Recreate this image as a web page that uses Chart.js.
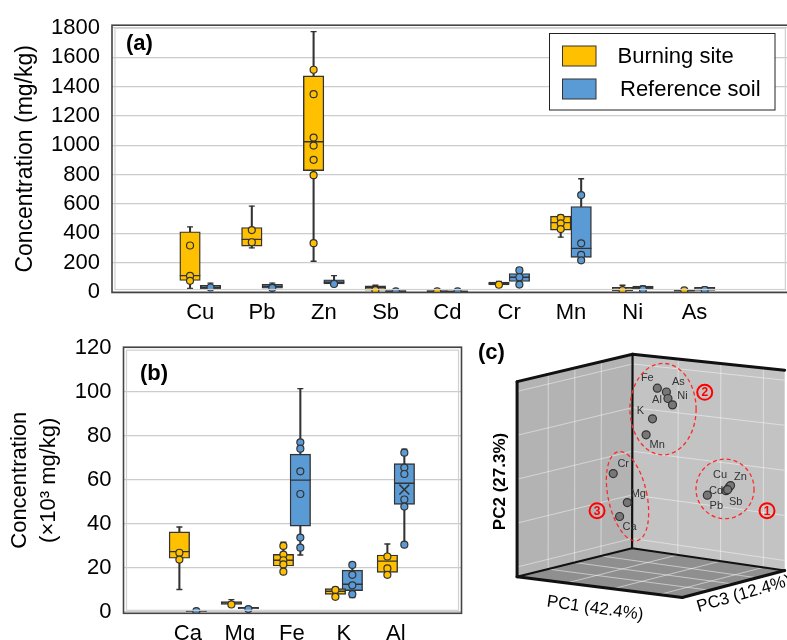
<!DOCTYPE html>
<html>
<head>
<meta charset="utf-8">
<script src="https://cdn.jsdelivr.net/npm/chart.js@4.4.1/dist/chart.umd.min.js"></script>
<style>
html,body{margin:0;padding:0;background:#ffffff;overflow:hidden;}
#wrap{position:relative;width:787px;height:640px;overflow:hidden;background:#fff;}
canvas{position:absolute;display:block;}
</style>
</head>
<body>
<div id="wrap">
<canvas id="ca" width="800" height="330" style="left:0;top:0;"></canvas>
<canvas id="cb" width="475" height="318" style="left:0;top:322px;"></canvas>
<canvas id="cc" width="317" height="318" style="left:470px;top:322px;"></canvas>
</div>
<script>
// ================= DATA =================
const seriesNames = ['Burning site', 'Reference soil'];

// ---- panel (a): concentration, mg/kg ----
const elementsA = ['Cu','Pb','Zn','Sb','Cd','Cr','Mn','Ni','As'];
const yTicksA   = [0,200,400,600,800,1000,1200,1400,1600,1800];
const burnMinA = [22, 300, 208, 8, 0, 40, 373, 3, 2];
const burnQ1A  = [77, 312, 827, 11, 2, 46, 421, 5, 4];
const burnMedA = [110, 358, 1024, 27, 4, 57, 472, 15, 9];
const burnQ3A  = [410, 439, 1474, 40, 8, 66, 516, 30, 15];
const burnMaxA = [443, 585, 1776, 44, 10, 70, 524, 44, 17];
const burnPtsA = [[316,108,75],[421,338],[1516,1349,1053,998,901,796,332],[11],[3],[48],[505,467,428],[11],[9]];
const refMinA  = [20, 20, 50, 0, 0, 38, 208, 14, 8];
const refQ1A   = [22, 24, 53, 1, 1, 70, 235, 18, 10];
const refMedA  = [30, 37, 65, 4, 3, 99, 296, 28, 20];
const refQ3A   = [44, 51, 82, 8, 6, 125, 582, 38, 30];
const refMaxA  = [59, 59, 110, 9, 7, 165, 772, 40, 33];
const refPtsA  = [[29],[26],[53],[3],[2],[147,99,49],[660,331,252,215],[16],[12]];

// ---- panel (b): concentration, x10^3 mg/kg ----
const elementsB = ['Ca','Mg','Fe','K','Al'];
const yTicksB   = [0,20,40,60,80,100,120];
const burnMinB = [10.1, 3.0, 17.9, 6.8, 16.2];
const burnQ1B  = [24.3, 3.3, 20.8, 7.9, 17.9];
const burnMedB = [27.3, 4.0, 23.4, 9.3, 23.0];
const burnQ3B  = [36.3, 4.6, 26.1, 10.5, 25.8];
const burnMaxB = [38.5, 5.5, 31.6, 11.0, 30.8];
const burnPtsB = [[26.8,23.7],[3.3],[29.9,26.0,23.4,21.5,18.2],[9.9,6.8],[25.1,19.7,16.8]];
const refMinB  = [0.1, 1.0, 25.8, 6.5, 30.5];
const refQ1B   = [0.1, 1.4, 38.9, 9.6, 48.8];
const refMedB  = [0.4, 1.8, 59.8, 12.5, 58.4];
const refQ3B   = [0.7, 2.0, 71.6, 18.9, 67.3];
const refMaxB  = [0.9, 2.2, 101.4, 22.2, 73.9];
const refPtsB  = [[0.3],[1.2],[77.0,74.1,63.8,53.5,33.7,29.1],[21.3,16.8,12.0,8.0],[72.3,65.5,62.6,51.0,47.8,30.5]];
const refMeanB = [null, null, null, null, 55.5];

// ---- panel (c): PCA loadings, projected onto the picture plane ----
const pcaElements = ['Fe','As','Al','Ni','K','Mn','Cr','Mg','Ca','Cu','Zn','Cd','Sb','Pb'];
const pcaProjX = [0.261, 0.355, 0.371, 0.418, 0.211, 0.145, -0.195, -0.049, -0.129, 1.003, 1.018, 0.971, 0.988, 0.778];
const pcaProjY = [1.655, 1.615, 1.548, 1.482, 1.338, 1.172, 0.772, 0.472, 0.328, 0.630, 0.648, 0.595, 0.605, 0.548];
const clusterIds = ['1','2','3'];
const clusterCX = [0.961, 0.320, -0.047];
const clusterCY = [0.613, 1.438, 0.538];
const clusterRX = [0.300, 0.342, 0.200];
const clusterRY = [0.308, 0.473, 0.470];
const clusterTagX = [1.395, 0.751, -0.362];
const clusterTagY = [0.388, 1.612, 0.388];
const pcaAxisTitles = ['PC1 (42.4%)', 'PC2 (27.3%)', 'PC3 (12.4%)'];

// ================= STYLE =================
Chart.defaults.font.family = "'Liberation Sans', Arial, sans-serif";
Chart.defaults.color = '#000';
Chart.defaults.animation = false;
const COL = {burn:'#FFC000', ref:'#5B9BD5', edge:'#333333', grid:'#cccccc', frame:'#444444'};
const FAM = "'Liberation Sans', Arial, sans-serif";

function boxSets(minA,q1A,medA,q3A,maxA,ptsA,meanA,color,off,boxW,label){
  const X = i => i + 1 + off;
  const sets = [];
  sets.push({type:'bar', data:minA.map((v,i)=>({x:X(i), y:[v, maxA[i]]})), backgroundColor:COL.edge,
    borderWidth:0, barThickness:1.4, grouped:false, order:60});
  const caps = [];
  minA.forEach((v,i)=>{ caps.push({x:X(i), y:v}); caps.push({x:X(i), y:maxA[i]}); });
  sets.push({type:'scatter', data:caps, pointStyle:'line', pointRadius:3, borderColor:COL.edge, borderWidth:1.4, order:50});
  sets.push({type:'bar', label:label, data:q1A.map((v,i)=>({x:X(i), y:[v, q3A[i]]})), backgroundColor:color,
    borderColor:COL.edge, borderWidth:1.4, borderSkipped:false, barThickness:boxW, grouped:false, order:40});
  sets.push({type:'scatter', data:medA.map((v,i)=>({x:X(i), y:v})), pointStyle:'line', pointRadius:boxW/2,
    borderColor:COL.edge, borderWidth:1.4, order:30});
  if (meanA) {
    const m = [];
    meanA.forEach((v,i)=>{ if (v !== null) m.push({x:X(i), y:v}); });
    sets.push({type:'scatter', data:m, pointStyle:'crossRot', pointRadius:7, borderColor:COL.edge, borderWidth:1.5, order:20});
  }
  const pts = [];
  ptsA.forEach((arr,i)=>arr.forEach(v=>pts.push({x:X(i), y:v})));
  sets.push({type:'scatter', data:pts, pointStyle:'circle', pointRadius:3.5, backgroundColor:color,
    borderColor:COL.edge, borderWidth:1.2, order:10});
  return sets;
}

function framePlugin(tag, dx, dy){
  return {
    id:'frame'+tag,
    afterDraw(chart){
      const a = chart.chartArea, ctx = chart.ctx;
      ctx.save();
      ctx.strokeStyle = '#d0d0d0'; ctx.lineWidth = 1.2;
      ctx.strokeRect(a.left+3, a.top+3, a.right-a.left-6, a.bottom-a.top-6);
      ctx.strokeStyle = COL.frame; ctx.lineWidth = 1.6;
      ctx.strokeRect(a.left, a.top, a.right-a.left, a.bottom-a.top);
      ctx.fillStyle = '#000';
      ctx.font = 'bold 22px ' + FAM;
      ctx.textAlign = 'left'; ctx.textBaseline = 'middle';
      ctx.fillText('(' + tag + ')', a.left + dx, a.top + dy);
      ctx.restore();
    }
  };
}

const legendPlugin = {
  id:'legendA',
  afterDraw(chart){
    const ctx = chart.ctx;
    ctx.save();
    ctx.fillStyle = '#fff'; ctx.fillRect(549.5, 33.5, 225.5, 76.5);
    ctx.strokeStyle = '#222'; ctx.lineWidth = 1; ctx.strokeRect(549.5, 33.5, 225.5, 76.5);
    const cols = [COL.burn, COL.ref];
    const ys = [56, 89];
    const tx = [617.5, 620];
    ctx.font = '22px ' + FAM; ctx.textBaseline = 'middle'; ctx.textAlign = 'left';
    seriesNames.forEach((n,i)=>{
      ctx.fillStyle = cols[i]; ctx.fillRect(562.5, ys[i]-10, 33.5, 20);
      ctx.strokeStyle = COL.edge; ctx.strokeRect(562.5, ys[i]-10, 33.5, 20);
      ctx.fillStyle = '#000'; ctx.fillText(n, tx[i], ys[i]+1);
    });
    ctx.restore();
  }
};

const plainNum = v => String(v);

// ================= PANEL (a) =================
(function(){
  const left = 112, c1 = 170, step = 70.7, right = 800;
  const xMin = 1 - (c1-left)/step, xMax = 1 + (right-c1)/step;
  const off = 11.7/step;
  const ds = [].concat(
    boxSets(burnMinA,burnQ1A,burnMedA,burnQ3A,burnMaxA,burnPtsA,null,COL.burn,-off,20.5,seriesNames[0]),
    boxSets(refMinA,refQ1A,refMedA,refQ3A,refMaxA,refPtsA,null,COL.ref,off,20.5,seriesNames[1])
  );
  new Chart(document.getElementById('ca'), {
    type:'bar',
    data:{datasets:ds},
    options:{
      responsive:false, animation:false, events:[],
      layout:{padding:{top:15, left:0, right:0, bottom:0}},
      plugins:{legend:{display:false}, tooltip:{enabled:false}},
      scales:{
        x:{type:'linear', min:xMin, max:xMax, bounds:'data', grid:{display:false}, border:{display:false},
          afterBuildTicks:s=>{ s.ticks = elementsA.map((_,i)=>({value:i+1})); },
          ticks:{autoSkip:false, maxRotation:0, padding:-1, font:{size:22}, color:'#000',
            callback:(v)=>elementsA[Math.round(v)-1]},
          afterFit:s=>{ s.height = 330 - 292.5; }},
        y:{type:'linear', min:-5, max:1820, bounds:'data',
          afterBuildTicks:s=>{ s.ticks = yTicksA.map(v=>({value:v})); },
          grid:{color:COL.grid, lineWidth:1.3, drawTicks:false}, border:{display:false},
          ticks:{padding:12, font:{size:22}, color:'#000', callback:plainNum},
          title:{display:true, text:'Concentration (mg/kg)', font:{size:23}, color:'#000', padding:{top:12, bottom:0}},
          afterFit:s=>{ s.width = 112; }}
      }
    },
    plugins:[framePlugin('a', 14, 18.5), legendPlugin]
  });
})();

// ================= PANEL (b) =================
(function(){
  const left = 123.5, c1 = 161.7, step = 65, right = 461.5;
  const xMin = 1 - (c1-left)/step, xMax = 1 + (right-c1)/step;
  const off = 10.6/step;
  const ds = [].concat(
    boxSets(burnMinB,burnQ1B,burnMedB,burnQ3B,burnMaxB,burnPtsB,null,COL.burn,-off,20.5,seriesNames[0]),
    boxSets(refMinB,refQ1B,refMedB,refQ3B,refMaxB,refPtsB,refMeanB,COL.ref,off,20.5,seriesNames[1])
  );
  new Chart(document.getElementById('cb'), {
    type:'bar',
    data:{datasets:ds},
    options:{
      responsive:false, animation:false, events:[],
      layout:{padding:{top:10.3, left:0, right:475-right, bottom:0}},
      plugins:{legend:{display:false}, tooltip:{enabled:false}},
      scales:{
        x:{type:'linear', min:xMin, max:xMax, bounds:'data', grid:{display:false}, border:{display:false},
          afterBuildTicks:s=>{ s.ticks = elementsB.map((_,i)=>({value:i+1})); },
          ticks:{autoSkip:false, maxRotation:0, padding:-1, font:{size:22}, color:'#000',
            callback:(v)=>elementsB[Math.round(v)-1]},
          afterFit:s=>{ s.height = 318 - 291.3; }},
        y:{type:'linear', min:-0.7, max:120.2, bounds:'data',
          afterBuildTicks:s=>{ s.ticks = yTicksB.map(v=>({value:v})); },
          grid:{color:COL.grid, lineWidth:1.3, drawTicks:false}, border:{display:false},
          ticks:{padding:12, font:{size:22}, color:'#000', callback:plainNum},
          title:{display:true, text:['Concentration','(\u00d710\u00b3 mg/kg)'], font:{size:22, lineHeight:1.32}, color:'#000', padding:{top:5.5, bottom:0}},
          afterFit:s=>{ s.width = 123.5; }}
      }
    },
    plugins:[framePlugin('b', 16.5, 27)]
  });
})();

// ================= PANEL (c) =================
(function(){
  const W = 317, H = 318, ox = 632.2-470, oy = 550.5-322, ppu = 100;
  const cube = {O:[0,0], T:[0.005,2.005], LB:[-1.189,-0.295], LT:[-1.189,1.722],
                RB:[1.578,-0.23], RT:[1.578,1.841], F:[0.518,-0.51]};
  const labelOffset = {Fe:[-10,-10], As:[12,-10], Al:[-11,1], Ni:[10,-9], K:[-12,-8], Mn:[11,10],
    Cr:[10,-10], Mg:[11,-9], Ca:[10,10], Cu:[-9,-12], Zn:[10,-9], Cd:[-10,0], Sb:[8,12], Pb:[9,11]};
  const clusterRot = [0, 0, -12];
  const lerp = (a,b,t)=>[a[0]+(b[0]-a[0])*t, a[1]+(b[1]-a[1])*t];

  const cubePlugin = {
    id:'cube',
    beforeDatasetsDraw(chart){
      const ctx = chart.ctx, xs = chart.scales.x, ys = chart.scales.y;
      const P = p => [xs.getPixelForValue(p[0]), ys.getPixelForValue(p[1])];
      const poly = (pts, fill) => { ctx.beginPath(); pts.forEach((p,i)=>{ const q=P(p); i?ctx.lineTo(q[0],q[1]):ctx.moveTo(q[0],q[1]); }); ctx.closePath(); ctx.fillStyle = fill; ctx.fill(); };
      const line = (a,b) => { const p=P(a), q=P(b); ctx.beginPath(); ctx.moveTo(p[0],p[1]); ctx.lineTo(q[0],q[1]); ctx.stroke(); };
      ctx.save();
      poly([cube.LB, cube.LT, cube.T, cube.O], '#b3b3b3');
      poly([cube.O, cube.T, cube.RT, cube.RB], '#c3c3c3');
      poly([cube.LB, cube.O, cube.RB, cube.F], '#8f8f8f');
      // wall grids
      ctx.strokeStyle = 'rgba(255,255,255,0.45)'; ctx.lineWidth = 1;
      [0.27, 0.5, 0.73].forEach(t=>line(lerp(cube.LB,cube.O,t), lerp(cube.LT,cube.T,t)));
      [0.05,0.275,0.5,0.725,0.95].forEach(t=>line(lerp(cube.LB,cube.LT,t), lerp(cube.O,cube.T,t)));
      [0.3,0.58,0.86].forEach(t=>line(lerp(cube.O,cube.RB,t), lerp(cube.T,cube.RT,t)));
      [0.05,0.275,0.5,0.725,0.95].forEach(t=>line(lerp(cube.O,cube.T,t), lerp(cube.RB,cube.RT,t)));
      ctx.strokeStyle = 'rgba(255,255,255,0.5)';
      [0.27,0.5,0.73].forEach(t=>line(lerp(cube.LB,cube.O,t), lerp(cube.F,cube.RB,t)));
      [0.3,0.58,0.86].forEach(t=>line(lerp(cube.O,cube.RB,t), lerp(cube.LB,cube.F,t)));
      // edges
      ctx.strokeStyle = '#111'; ctx.lineCap = 'round';
      ctx.lineWidth = 3;
      line(cube.LB, cube.LT); line(cube.LT, cube.T); line(cube.T, cube.RT);
      line(cube.LB, cube.F); line(cube.F, cube.RB);
      ctx.lineWidth = 2.2;
      line(cube.T, cube.O); line(cube.O, cube.LB); line(cube.O, cube.RB);
      ctx.restore();
    },
    afterDatasetsDraw(chart){
      const ctx = chart.ctx, xs = chart.scales.x, ys = chart.scales.y;
      ctx.save();
      ctx.font = '11px ' + FAM; ctx.fillStyle = '#333'; ctx.textAlign = 'center'; ctx.textBaseline = 'middle';
      pcaElements.forEach((e,i)=>{
        const o = labelOffset[e];
        ctx.fillText(e, xs.getPixelForValue(pcaProjX[i]) + o[0], ys.getPixelForValue(pcaProjY[i]) + o[1]);
      });
      clusterIds.forEach((id,i)=>{
        const cx = xs.getPixelForValue(clusterCX[i]), cy = ys.getPixelForValue(clusterCY[i]);
        const rx = Math.abs(xs.getPixelForValue(clusterRX[i]) - xs.getPixelForValue(0));
        const ry = Math.abs(ys.getPixelForValue(clusterRY[i]) - ys.getPixelForValue(0));
        ctx.beginPath(); ctx.setLineDash([4,3]); ctx.strokeStyle = '#ff2a2a'; ctx.lineWidth = 1.3;
        ctx.ellipse(cx, cy, rx, ry, clusterRot[i]*Math.PI/180, 0, Math.PI*2); ctx.stroke();
        ctx.setLineDash([]);
        const tx = xs.getPixelForValue(clusterTagX[i]), ty = ys.getPixelForValue(clusterTagY[i]);
        ctx.beginPath(); ctx.arc(tx, ty, 7.5, 0, Math.PI*2); ctx.strokeStyle = '#ff0000'; ctx.lineWidth = 2; ctx.stroke();
        ctx.fillStyle = '#ff0000'; ctx.font = 'bold 12px ' + FAM; ctx.textAlign = 'center'; ctx.textBaseline = 'middle';
        ctx.fillText(id, tx, ty + 0.5);
      });
      ctx.fillStyle = '#000';
      ctx.font = 'bold 22px ' + FAM; ctx.textAlign = 'left';
      ctx.fillText('(c)', 8, 31);
      ctx.save(); ctx.translate(30, 159.5); ctx.rotate(-Math.PI/2);
      ctx.font = 'bold 17px ' + FAM; ctx.textAlign = 'center'; ctx.fillText(pcaAxisTitles[1], 0, 0); ctx.restore();
      ctx.save(); ctx.translate(125, 286.5); ctx.rotate(8*Math.PI/180);
      ctx.font = '17px ' + FAM; ctx.textAlign = 'center'; ctx.fillText(pcaAxisTitles[0], 0, 0); ctx.restore();
      ctx.save(); ctx.translate(274, 272); ctx.rotate(-16*Math.PI/180);
      ctx.font = '17px ' + FAM; ctx.textAlign = 'center'; ctx.fillText(pcaAxisTitles[2], 0, 0); ctx.restore();
      ctx.restore();
    }
  };

  new Chart(document.getElementById('cc'), {
    type:'scatter',
    data:{datasets:[{data:pcaProjX.map((x,i)=>({x:x, y:pcaProjY[i]})), pointRadius:4,
      backgroundColor:'#777777', borderColor:'#333333', borderWidth:1.2}]},
    options:{
      responsive:false, animation:false, events:[],
      layout:{padding:0},
      plugins:{legend:{display:false}, tooltip:{enabled:false}},
      scales:{
        x:{display:false, type:'linear', bounds:'data', min:-ox/ppu, max:(W-ox)/ppu},
        y:{display:false, type:'linear', bounds:'data', min:-(H-oy)/ppu, max:oy/ppu}
      }
    },
    plugins:[cubePlugin]
  });
})();
</script>
</body>
</html>
